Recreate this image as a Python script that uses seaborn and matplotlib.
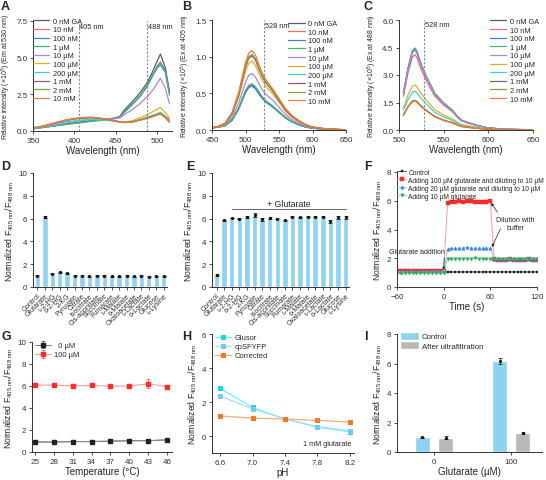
import numpy as np
import pandas as pd
import matplotlib
matplotlib.use("Agg")
import matplotlib.pyplot as plt
import seaborn as sns

sns.set_style("ticks")
plt.rcParams['font.family'] = ['Liberation Sans', 'DejaVu Sans']
plt.rcParams['mathtext.fontset'] = 'custom'
plt.rcParams['mathtext.rm'] = 'Liberation Sans'
plt.rcParams['mathtext.it'] = 'Liberation Sans:italic'
plt.rcParams['axes.edgecolor'] = '#333333'
plt.rcParams['xtick.color'] = '#333333'
plt.rcParams['ytick.color'] = '#333333'

# ---------------- data ----------------
CONC = ['0 nM GA', '10 nM', '100 nM', '1 µM', '10 µM', '100 µM', '200 µM', '1 mM', '2 mM', '10 mM']
CONC_COLORS = ['#5c5c5c', '#ee6a70', '#3f7fd8', '#3cb878', '#b283da', '#e3ad2c',
               '#3fd2d6', '#8b5f6f', '#8a9a3c', '#f07838']

WL_A = [350, 360, 370, 380, 390, 400, 410, 420, 430, 440, 450, 455, 460, 470, 480, 488, 495, 500, 504, 510, 515]
A_0nM = [0.15, 0.22, 0.30, 0.38, 0.45, 0.52, 0.60, 0.68, 0.75, 0.82, 0.90, 1.00, 1.40, 2.00, 2.65, 3.30, 4.10, 4.75, 5.25, 4.30, 2.65]
A_10nM = [0.18, 0.25, 0.32, 0.40, 0.47, 0.55, 0.62, 0.70, 0.75, 0.80, 0.88, 0.95, 1.25, 1.80, 2.40, 3.05, 3.80, 4.30, 4.50, 4.00, 2.55]
A_100nM = [0.18, 0.25, 0.33, 0.42, 0.50, 0.57, 0.63, 0.70, 0.74, 0.80, 0.87, 0.95, 1.30, 1.85, 2.45, 3.10, 3.85, 4.40, 4.70, 4.10, 2.60]
A_1uM = [0.18, 0.24, 0.30, 0.38, 0.45, 0.52, 0.58, 0.65, 0.70, 0.77, 0.85, 0.92, 1.25, 1.80, 2.40, 3.05, 3.80, 4.30, 4.55, 4.00, 2.45]
A_10uM = [0.16, 0.25, 0.35, 0.45, 0.55, 0.65, 0.72, 0.78, 0.80, 0.82, 0.85, 0.90, 1.10, 1.45, 1.90, 2.35, 2.80, 3.25, 3.60, 2.90, 1.85]
A_100uM = [0.16, 0.28, 0.42, 0.58, 0.72, 0.82, 0.88, 0.90, 0.86, 0.78, 0.68, 0.62, 0.60, 0.70, 0.92, 1.12, 1.32, 1.48, 1.60, 1.25, 0.85]
A_200uM = [0.25, 0.33, 0.42, 0.52, 0.62, 0.70, 0.76, 0.78, 0.76, 0.72, 0.66, 0.60, 0.58, 0.62, 0.80, 0.95, 1.08, 1.18, 1.28, 1.00, 0.75]
A_1mM = [0.15, 0.30, 0.45, 0.58, 0.72, 0.82, 0.88, 0.90, 0.87, 0.78, 0.68, 0.62, 0.58, 0.62, 0.78, 0.90, 1.02, 1.12, 1.20, 0.95, 0.65]
A_2mM = [0.15, 0.30, 0.45, 0.60, 0.74, 0.84, 0.90, 0.92, 0.88, 0.78, 0.68, 0.62, 0.58, 0.62, 0.76, 0.88, 1.00, 1.10, 1.18, 0.92, 0.62]
A_10mM = [0.15, 0.30, 0.46, 0.62, 0.76, 0.86, 0.92, 0.94, 0.89, 0.79, 0.68, 0.62, 0.57, 0.60, 0.74, 0.86, 0.98, 1.08, 1.15, 0.90, 0.60]

WL_B = [450, 460, 470, 480, 490, 500, 505, 510, 515, 520, 525, 530, 540, 550, 560, 570, 580, 590, 600, 620, 650]
B_0nM = [0.03, 0.04, 0.06, 0.14, 0.29, 0.52, 0.59, 0.61, 0.57, 0.50, 0.44, 0.39, 0.32, 0.24, 0.17, 0.11, 0.07, 0.04, 0.025, 0.01, 0.002]
B_10nM = [0.03, 0.04, 0.06, 0.14, 0.30, 0.53, 0.60, 0.62, 0.58, 0.51, 0.45, 0.40, 0.33, 0.25, 0.17, 0.11, 0.07, 0.04, 0.025, 0.01, 0.002]
B_100nM = [0.03, 0.04, 0.06, 0.13, 0.29, 0.51, 0.58, 0.60, 0.56, 0.49, 0.43, 0.38, 0.32, 0.24, 0.16, 0.11, 0.07, 0.04, 0.024, 0.01, 0.002]
B_1uM = [0.03, 0.04, 0.06, 0.14, 0.30, 0.54, 0.61, 0.63, 0.59, 0.52, 0.45, 0.40, 0.33, 0.25, 0.17, 0.11, 0.08, 0.045, 0.025, 0.01, 0.002]
B_10uM = [0.03, 0.04, 0.07, 0.17, 0.37, 0.65, 0.75, 0.77, 0.72, 0.63, 0.55, 0.49, 0.41, 0.31, 0.21, 0.14, 0.09, 0.055, 0.03, 0.012, 0.002]
B_100uM = [0.03, 0.05, 0.08, 0.21, 0.45, 0.80, 0.91, 0.94, 0.88, 0.77, 0.68, 0.60, 0.50, 0.38, 0.25, 0.17, 0.11, 0.065, 0.038, 0.014, 0.003]
B_200uM = [0.03, 0.05, 0.09, 0.22, 0.49, 0.87, 0.99, 1.02, 0.96, 0.84, 0.73, 0.65, 0.54, 0.41, 0.28, 0.18, 0.12, 0.07, 0.04, 0.015, 0.003]
B_1mM = [0.03, 0.05, 0.09, 0.22, 0.48, 0.86, 0.98, 1.01, 0.95, 0.83, 0.73, 0.65, 0.54, 0.40, 0.27, 0.18, 0.12, 0.07, 0.04, 0.015, 0.003]
B_2mM = [0.03, 0.05, 0.09, 0.23, 0.49, 0.88, 1.00, 1.03, 0.97, 0.84, 0.74, 0.66, 0.55, 0.41, 0.28, 0.19, 0.12, 0.07, 0.04, 0.015, 0.003]
B_10mM = [0.03, 0.05, 0.10, 0.24, 0.52, 0.92, 1.05, 1.08, 1.02, 0.89, 0.78, 0.69, 0.57, 0.43, 0.29, 0.19, 0.13, 0.075, 0.043, 0.016, 0.003]

WL_C = [505, 510, 515, 518, 520, 525, 530, 540, 550, 560, 565, 570, 580, 590, 600, 620, 650]
C_0nM = [2.00, 3.35, 4.30, 4.45, 4.28, 3.55, 2.98, 2.00, 1.47, 1.07, 0.76, 0.53, 0.36, 0.22, 0.11, 0.04, 0.01]
C_10nM = [1.85, 3.10, 3.98, 4.10, 3.95, 3.28, 2.75, 1.85, 1.36, 0.98, 0.70, 0.49, 0.33, 0.20, 0.10, 0.035, 0.01]
C_100nM = [1.98, 3.30, 4.27, 4.40, 4.23, 3.52, 2.95, 1.98, 1.45, 1.06, 0.75, 0.53, 0.35, 0.22, 0.11, 0.04, 0.01]
C_1uM = [2.02, 3.33, 4.32, 4.47, 4.30, 3.56, 2.99, 2.00, 1.47, 1.07, 0.76, 0.53, 0.36, 0.22, 0.11, 0.04, 0.01]
C_10uM = [1.95, 3.26, 4.22, 4.35, 4.18, 3.48, 2.92, 1.96, 1.44, 1.04, 0.74, 0.52, 0.35, 0.21, 0.11, 0.04, 0.01]
C_100uM = [1.20, 1.90, 2.38, 2.45, 2.36, 1.98, 1.66, 1.12, 0.82, 0.60, 0.43, 0.30, 0.20, 0.12, 0.06, 0.02, 0.005]
C_200uM = [1.08, 1.66, 2.06, 2.12, 2.04, 1.71, 1.44, 0.97, 0.71, 0.52, 0.37, 0.26, 0.17, 0.10, 0.05, 0.02, 0.005]
C_1mM = [0.82, 1.28, 1.58, 1.62, 1.56, 1.31, 1.10, 0.74, 0.54, 0.40, 0.28, 0.20, 0.13, 0.08, 0.04, 0.015, 0.004]
C_2mM = [0.81, 1.26, 1.56, 1.60, 1.54, 1.29, 1.08, 0.73, 0.53, 0.39, 0.28, 0.19, 0.13, 0.08, 0.04, 0.015, 0.004]
C_10mM = [0.80, 1.25, 1.54, 1.58, 1.52, 1.27, 1.07, 0.72, 0.52, 0.38, 0.27, 0.19, 0.13, 0.08, 0.04, 0.015, 0.004]

METABOLITES = ['Control', 'Glutarate', 'ʟ-2-HG', 'ᴅ-2-HG', '2-KG', 'Pyruvate', 'Citrate', 'Isocitrate',
               'Cis-aconitate', 'Succinate', 'Fumarate', 'ʟ-Malate', 'ᴅ-Malate', 'Oxaloacetate',
               'ʟ-Lactate', 'ᴅ-Lactate', 'Glucose', 'ʟ-Lysine']
D_MEAN = [1.00, 6.15, 1.15, 1.28, 1.20, 1.00, 0.98, 0.93, 1.00, 1.00, 0.95, 0.95, 0.98, 0.95, 0.98, 0.92, 0.93, 0.93]
D_ERR = [0.03, 0.08, 0.05, 0.05, 0.05, 0.03, 0.03, 0.03, 0.05, 0.04, 0.03, 0.03, 0.04, 0.03, 0.03, 0.03, 0.03, 0.03]
E_MEAN = [1.05, 5.85, 6.05, 6.00, 6.15, 6.30, 5.95, 6.05, 5.98, 5.85, 6.15, 6.12, 6.18, 6.15, 6.18, 5.75, 6.10, 6.10]
E_ERR = [0.05, 0.04, 0.04, 0.04, 0.10, 0.15, 0.12, 0.05, 0.04, 0.06, 0.04, 0.05, 0.04, 0.04, 0.03, 0.12, 0.12, 0.10]

TIME_S = list(range(-60, 121, 5))
F_CONTROL = [1.05, 1.04, 1.05, 1.05, 1.04, 1.05, 1.05, 1.05, 1.04, 1.05, 1.05, 1.05, 1.05,
             1.05, 1.05, 1.04, 1.05, 1.05, 1.05, 1.05, 1.05, 1.04, 1.05, 1.05, 1.05,
             1.05, 1.05, 1.05, 1.04, 1.05, 1.05, 1.05, 1.05, 1.05, 1.04, 1.05, 1.05]
F_100UM = [1.10, 1.10, 1.11, 1.10, 1.12, 1.11, 1.10, 1.12, 1.11, 1.12, 1.12, 1.13, 1.12,
           5.85, 5.90, 5.92, 5.95, 5.93, 5.96, 5.95, 5.92, 5.90, 5.88, 5.93, 5.95,
           1.92, 1.90, 1.88, 1.90, 1.92, 1.90, 1.91, 1.89, 1.90, 1.92, 1.90, 1.91]
F_20UM = [1.08, 1.07, 1.08, 1.08, 1.09, 1.08, 1.08, 1.09, 1.08, 1.09, 1.09, 1.10, 1.10,
          2.65, 2.68, 2.70, 2.70, 2.72, 2.75, 2.72, 2.70, 2.71, 2.70, 2.70, 2.72,
          1.95, 1.96, 1.95, 1.94, 1.96, 1.95, 1.95, 1.96, 1.95, 1.94, 1.95, 1.96]
F_10UM = [0.98, 0.98, 0.99, 0.98, 0.98, 0.99, 0.98, 0.99, 0.98, 0.99, 0.99, 1.00, 1.00,
          1.95, 1.96, 1.97, 1.97, 1.98, 1.97, 1.98, 2.00, 1.98, 1.97, 1.96, 1.97,
          1.97, 1.96, 1.97, 1.98, 1.97, 1.96, 1.97, 1.97, 1.96, 1.97, 1.98, 1.97]
F_LABELS = ['Control', 'Adding 100 µM glutarate and diluting to 10 µM',
            'Adding 20 µM glutarate and diluting to 10 µM', 'Adding 10 µM glutarate']

TEMP_C = [25, 28, 31, 34, 37, 40, 43, 46]
G_0UM = [0.92, 0.90, 0.95, 0.95, 0.98, 1.03, 1.03, 1.10]
G_0UM_ERR = [0.03, 0.03, 0.03, 0.03, 0.03, 0.03, 0.03, 0.03]
G_100UM = [6.08, 6.08, 6.02, 6.05, 5.98, 6.00, 6.20, 5.95]
G_100UM_ERR = [0.08, 0.15, 0.06, 0.06, 0.05, 0.10, 0.40, 0.12]

PH = [6.6, 7.0, 7.4, 7.8, 8.2]
H_GLUSOR = [2.80, 1.68, 1.00, 0.52, 0.25]
H_CPSFYFP = [2.35, 1.60, 1.00, 0.55, 0.30]
H_CORRECTED = [1.18, 1.05, 1.00, 0.92, 0.82]

I_GLUT = ['0', '100']
I_CONTROL = [1.00, 6.15]
I_CONTROL_ERR = [0.04, 0.20]
I_ULTRA = [0.98, 1.30]
I_ULTRA_ERR = [0.10, 0.05]

# ---------------- figure ----------------
W, H = 546, 481
fig = plt.figure(figsize=(W / 100, H / 100), dpi=100)


def ax_at(l, t, r, b):
    return fig.add_axes([l / W, 1 - b / H, (r - l) / W, (b - t) / H])


TICK = 5.8
LAB = 7.0
NLAB = 6.2
NORM_LABEL = 'Normalized F$_{\\mathregular{405\\ nm}}$/F$_{\\mathregular{488\\ nm}}$'
SPEC_YL = 'Relative intensity (×10$^{\\mathregular{5}}$) (%s)'


def style(ax):
    sns.despine(ax=ax)
    ax.tick_params(labelsize=TICK, width=0.6, length=2.5, pad=1.5)
    for s in ['left', 'bottom']:
        ax.spines[s].set_linewidth(0.7)


def panel_letter(x, y, s):
    fig.text(x / W, 1 - y / H, s, fontsize=9, fontweight='bold', va='top', ha='left')


def spectra(ax, wl, series):
    for lab, vals, col in zip(CONC, series, CONC_COLORS):
        sns.lineplot(x=wl, y=vals, ax=ax, color=col, lw=0.9, label=lab)


LEG_SPEC = dict(loc='upper left', frameon=False, fontsize=5.3, handlelength=2.2,
                labelspacing=0.2, handletextpad=0.5, borderaxespad=0, borderpad=0)

# Panel A
axA = ax_at(33, 22, 172, 132)
spectra(axA, WL_A, [A_0nM, A_10nM, A_100nM, A_1uM, A_10uM, A_100uM, A_200uM, A_1mM, A_2mM, A_10mM])
axA.set_xlim(350, 518)
axA.set_ylim(0, 7.5)
axA.set_xticks([350, 400, 450, 500])
axA.set_yticks([0, 2.5, 5.0, 7.5])
axA.set_yticklabels(['0.0', '2.5', '5.0', '7.5'])
for wl, lab in [(405, '405 nm'), (488, '488 nm')]:
    axA.axvline(wl, color='#888888', lw=0.8, ls=(0, (2, 1.5)))
    axA.text(wl + 1, 7.15, lab, fontsize=5.3, va='center', ha='left')
axA.set_xlabel('Wavelength (nm)', fontsize=LAB, labelpad=1)
axA.set_ylabel(SPEC_YL % 'Em at 530 nm', fontsize=5.0, labelpad=2)
axA.legend(bbox_to_anchor=(0.0, 1.03), **LEG_SPEC)
style(axA)

# Panel B
axB = ax_at(212, 21, 346, 131)
spectra(axB, WL_B, [B_0nM, B_10nM, B_100nM, B_1uM, B_10uM, B_100uM, B_200uM, B_1mM, B_2mM, B_10mM])
axB.set_xlim(450, 650)
axB.set_ylim(0, 1.5)
axB.set_xticks([450, 500, 550, 600, 650])
axB.set_yticks([0, 0.5, 1.0, 1.5])
axB.set_yticklabels(['0.0', '0.5', '1.0', '1.5'])
axB.axvline(528, color='#888888', lw=0.8, ls=(0, (2, 1.5)))
axB.text(529, 1.43, '528 nm', fontsize=5.3, va='center', ha='left')
axB.set_xlabel('Wavelength (nm)', fontsize=LAB, labelpad=1)
axB.set_ylabel(SPEC_YL % 'Ex at 405 nm', fontsize=5.0, labelpad=2)
axB.legend(bbox_to_anchor=(0.57, 1.0), **LEG_SPEC)
style(axB)

# Panel C
axC = ax_at(399, 21, 533, 131)
spectra(axC, WL_C, [C_0nM, C_10nM, C_100nM, C_1uM, C_10uM, C_100uM, C_200uM, C_1mM, C_2mM, C_10mM])
axC.set_xlim(500, 650)
axC.set_ylim(0, 6)
axC.set_xticks([500, 550, 600, 650])
axC.set_yticks([0, 1.5, 3.0, 4.5, 6.0])
axC.set_yticklabels(['0.0', '1.5', '3.0', '4.5', '6.0'])
axC.axvline(528, color='#888888', lw=0.8, ls=(0, (2, 1.5)))
axC.text(529, 5.75, '528 nm', fontsize=5.3, va='center', ha='left')
axC.set_xlabel('Wavelength (nm)', fontsize=LAB, labelpad=1)
axC.set_ylabel(SPEC_YL % 'Ex at 488 nm', fontsize=5.0, labelpad=2)
axC.legend(bbox_to_anchor=(0.68, 1.02), **LEG_SPEC)
style(axC)

BAR_BLUE = '#8dd2f0'
BAR_GRAY = '#b8b8b8'


def metabolite_bars(ax, mean, err):
    sns.barplot(x=METABOLITES, y=mean, color=BAR_BLUE, width=0.72, ax=ax, saturation=1)
    ax.errorbar(range(len(mean)), mean, yerr=err, fmt='o', ms=1.3, color='#111111',
                ecolor='#111111', elinewidth=0.5, capsize=1.2, capthick=0.5)
    ax.set_xlim(-0.6, len(mean) - 0.55)
    ax.set_ylim(0, 10)
    ax.set_yticks([0, 2, 4, 6, 8, 10])
    ax.set_xticks(range(len(mean)))
    ax.set_xticklabels(METABOLITES, rotation=45, ha='right', rotation_mode='anchor')
    ax.set_ylabel(NORM_LABEL, fontsize=NLAB, labelpad=2)
    style(ax)
    ax.tick_params(axis='x', labelsize=5.0, pad=1)


# Panel D
axD = ax_at(33, 174, 167, 288)
metabolite_bars(axD, D_MEAN, D_ERR)

# Panel E
axE = ax_at(212, 174, 349, 288)
metabolite_bars(axE, E_MEAN, E_ERR)
axE.plot([2, 17], [6.8, 6.8], color='#666666', lw=0.7)
axE.text(9.5, 6.9, '+ Glutarate', fontsize=6.3, ha='center', va='bottom')

# Panel F
axF = ax_at(397, 173, 537, 288)
F_STYLE = [('#555555', '#222222', 's', 1.8), ('#ff9a9a', '#ff2a2a', 's', 2.3),
           ('#8fc4ff', '#2a7fe8', '^', 2.4), ('#7fd6a2', '#25b060', 'v', 2.4)]
for vals, lab, (lc, mc, mk, ms) in zip([F_CONTROL, F_100UM, F_20UM, F_10UM], F_LABELS, F_STYLE):
    sns.lineplot(x=TIME_S, y=vals, ax=axF, color=lc, lw=0.7, marker=mk, ms=ms,
                 markerfacecolor=mc, markeredgecolor=mc, markeredgewidth=0.3, label=lab)
axF.set_xlim(-60, 120)
axF.set_ylim(0, 8)
axF.set_xticks([-60, 0, 60, 120])
axF.set_xticklabels(['\u221260', '0', '60', '120'])
axF.set_yticks([0, 2, 4, 6, 8])
axF.set_xlabel('Time (s)', fontsize=LAB, labelpad=1)
axF.set_ylabel(NORM_LABEL, fontsize=NLAB, labelpad=2)
axF.legend(loc='upper left', bbox_to_anchor=(0.0, 1.03), frameon=False, fontsize=4.8,
           handlelength=1.4, labelspacing=0.15, handletextpad=0.3, borderaxespad=0, borderpad=0)
arrow = dict(arrowstyle='-|>', color='#222222', lw=0.5, mutation_scale=4)
axF.annotate('Glutarate addition', xy=(0, 1.18), xytext=(-35, 2.5), fontsize=5.0,
             ha='center', va='center', arrowprops=dict(arrow, shrinkA=0, shrinkB=0,
                                                        relpos=(1.0, 0.0)))
axF.annotate('Dilution with\nbuffer', xy=(61, 5.85), xytext=(92, 4.45), fontsize=5.0,
             ha='center', va='center', arrowprops=dict(arrow, shrinkA=0, shrinkB=0,
                                                        relpos=(0.1, 1.0)))
axF.annotate('', xy=(62, 2.78), xytext=(73, 4.05),
             arrowprops=dict(arrow, shrinkA=0, shrinkB=0))
style(axF)

# Panel G
axG = ax_at(32, 343, 172, 453)
axG.errorbar(TEMP_C, G_0UM, yerr=G_0UM_ERR, fmt='-s', ms=2.3, color='#888888',
             mfc='#222222', mec='#222222', ecolor='#444444', lw=0.8, elinewidth=0.5,
             capsize=1.2, capthick=0.5, label='  0 µM')
axG.errorbar(TEMP_C, G_100UM, yerr=G_100UM_ERR, fmt='-s', ms=2.3, color='#ff9a9a',
             mfc='#ff2a2a', mec='#ff2a2a', ecolor='#ff4040', lw=0.8, elinewidth=0.5,
             capsize=1.2, capthick=0.5, label='100 µM')
sns.lineplot(x=TEMP_C, y=G_0UM, ax=axG, color='#888888', lw=0.8, legend=False)
axG.set_xlim(24.5, 46.8)
axG.set_ylim(0, 10)
axG.set_xticks(TEMP_C)
axG.set_yticks([0, 2, 4, 6, 8, 10])
axG.set_xlabel('Temperature (°C)', fontsize=LAB, labelpad=1)
axG.set_ylabel(NORM_LABEL, fontsize=NLAB, labelpad=2)
axG.legend(loc='upper left', bbox_to_anchor=(0.02, 1.0), frameon=False, fontsize=5.4,
           handlelength=2.2, labelspacing=0.25, handletextpad=0.4, borderaxespad=0, borderpad=0)
style(axG)

# Panel H
axH = ax_at(212, 335, 354, 454)
for vals, lab, lc, mc in [(H_GLUSOR, 'Glusor', '#6ff0f8', '#10d8ec'),
                          (H_CPSFYFP, 'cpSFYFP', '#a8dcf8', '#7cc6f0'),
                          (H_CORRECTED, 'Corrected', '#f5ad78', '#f07a2a')]:
    sns.lineplot(x=PH, y=vals, ax=axH, color=lc, lw=0.9, marker='s', ms=2.3,
                 markerfacecolor=mc, markeredgecolor=mc, label=lab)
axH.set_xlim(6.5, 8.25)
axH.set_ylim(-1, 6)
axH.set_xticks(PH)
axH.set_xticklabels(['6.6', '7.0', '7.4', '7.8', '8.2'])
axH.set_yticks([0, 2, 4, 6])
axH.text(8.22, -0.45, '1 mM glutarate', fontsize=5.2, ha='right', va='center')
axH.set_xlabel('pH', fontsize=LAB, labelpad=1)
axH.set_ylabel(NORM_LABEL, fontsize=NLAB, labelpad=2)
axH.legend(loc='upper left', bbox_to_anchor=(0.02, 1.0), frameon=False, fontsize=5.4,
           handlelength=2.2, labelspacing=0.25, handletextpad=0.4, borderaxespad=0, borderpad=0)
style(axH)

# Panel I
axI = ax_at(397, 335, 542, 453)
dfI = pd.DataFrame({
    'glut': I_GLUT + I_GLUT,
    'val': I_CONTROL + I_ULTRA,
    'cond': ['Control'] * len(I_GLUT) + ['After ultrafiltration'] * len(I_GLUT),
})
sns.barplot(data=dfI, x='glut', y='val', hue='cond', order=I_GLUT,
            hue_order=['Control', 'After ultrafiltration'], palette=[BAR_BLUE, BAR_GRAY],
            width=0.6, gap=0.35, saturation=1, ax=axI)
offs = [-0.15, 0.15]
for k, (vals, errs) in enumerate([(I_CONTROL, I_CONTROL_ERR), (I_ULTRA, I_ULTRA_ERR)]):
    xs = [i + offs[k] for i in range(len(vals))]
    axI.errorbar(xs, vals, yerr=errs, fmt='o', ms=1.3, color='#111111', ecolor='#111111',
                 elinewidth=0.5, capsize=1.5, capthick=0.5)
axI.set_xlim(-0.48, 1.4)
axI.set_ylim(0, 8)
axI.set_yticks([0, 2, 4, 6, 8])
axI.set_xlabel('Glutarate (µM)', fontsize=LAB, labelpad=1)
axI.set_ylabel(NORM_LABEL, fontsize=NLAB, labelpad=2)
axI.legend(loc='upper left', bbox_to_anchor=(0.02, 1.02), frameon=False, fontsize=5.6,
           handlelength=2.4, handleheight=1.2, labelspacing=0.1, handletextpad=0.4,
           borderaxespad=0, borderpad=0)
style(axI)

for x, y, s in [(1, 1, 'A'), (182, 1, 'B'), (364, 1, 'C'),
                (1, 161, 'D'), (186, 161, 'E'), (364, 161, 'F'),
                (1, 331, 'G'), (182, 331, 'H'), (364, 331, 'I')]:
    panel_letter(x, y, s)

fig.savefig('out.png', dpi=100)
